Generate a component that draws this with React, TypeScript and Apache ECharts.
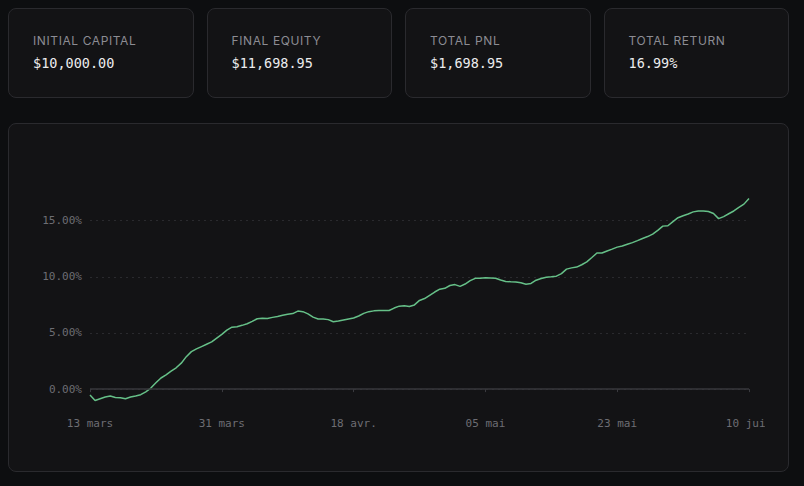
import React, { useEffect, useRef } from "react";
import * as echarts from "echarts";

const STAT_LABELS = ["INITIAL CAPITAL", "FINAL EQUITY", "TOTAL PNL", "TOTAL RETURN"];
const STAT_VALUES = ["$10,000.00", "$11,698.95", "$1,698.95", "16.99%"];

const TICK_LABELS = ["13 mars", "31 mars", "18 avr.", "05 mai", "23 mai", "10 juin"];
const Y_TICKS = [0, 5, 10, 15];

// equity return (%) sampled evenly from 13 mars to 10 juin
const RETURNS = [
  -0.53, -1.01, -0.86, -0.71, -0.61, -0.74, -0.77, -0.86, -0.71, -0.61,
  -0.5, -0.24, 0.09, 0.56, 0.99, 1.27, 1.6, 1.9, 2.31, 2.89,
  3.34, 3.58, 3.79, 4.0, 4.21, 4.55, 4.88, 5.25, 5.52, 5.56,
  5.68, 5.82, 6.03, 6.27, 6.32, 6.29, 6.39, 6.46, 6.58, 6.66,
  6.73, 6.95, 6.9, 6.7, 6.41, 6.25, 6.25, 6.19, 6.0, 6.06,
  6.15, 6.24, 6.33, 6.51, 6.75, 6.9, 6.97, 7.0, 7.0, 7.0,
  7.22, 7.39, 7.42, 7.36, 7.5, 7.9, 8.07, 8.36, 8.65, 8.9,
  8.98, 9.23, 9.31, 9.15, 9.36, 9.66, 9.87, 9.87, 9.91, 9.9,
  9.88, 9.72, 9.59, 9.56, 9.54, 9.47, 9.35, 9.41, 9.7, 9.85,
  9.97, 10.01, 10.06, 10.29, 10.69, 10.8, 10.87, 11.08, 11.33, 11.72,
  12.12, 12.13, 12.31, 12.47, 12.65, 12.75, 12.9, 13.05, 13.23, 13.42,
  13.59, 13.81, 14.14, 14.52, 14.55, 14.92, 15.27, 15.45, 15.6, 15.79,
  15.86, 15.87, 15.82, 15.64, 15.19, 15.37, 15.62, 15.87, 16.19, 16.48,
  16.99,
];

const MONO = '"DejaVu Sans Mono", "Liberation Mono", monospace';
const SANS = 'Inter, "Noto Sans", sans-serif';

function Chart() {
  const ref = useRef<HTMLDivElement>(null);
  useEffect(() => {
    if (!ref.current) return;
    const chart = echarts.init(ref.current, null, { renderer: "svg" });
    const last = RETURNS.length - 1;
    const step = last / (TICK_LABELS.length - 1);
    chart.setOption({
      animation: false,
      backgroundColor: "transparent",
      textStyle: { fontFamily: MONO },
      grid: { left: 58, right: 16, top: 51.4, bottom: 36, outerBoundsMode: "none", containLabel: false },
      xAxis: {
        type: "value",
        min: 0,
        max: last,
        interval: step,
        axisLine: { show: false },
        axisTick: { show: true, length: 3, lineStyle: { color: "#3a3a3f" } },
        splitLine: { show: false },
        axisLabel: {
          color: "#6d6d73",
          fontSize: 11,
          fontFamily: MONO,
          margin: 6,
          formatter: (v: number) => TICK_LABELS[Math.round(v / step)] ?? "",
        },
      },
      yAxis: {
        type: "value",
        min: -2.04,
        max: 16.99,
        axisLine: { show: false },
        axisTick: { show: false, customValues: Y_TICKS },
        axisLabel: {
          customValues: Y_TICKS,
          color: "#6d6d73",
          fontSize: 11,
          fontFamily: MONO,
          margin: 8,
          formatter: (v: number) => v.toFixed(2) + "%",
        },
        splitLine: {
          show: true,
          lineStyle: { color: "#2a2a2e", type: [2, 4], width: 1 },
        },
      },
      series: [
        {
          type: "line",
          data: RETURNS.map((v, i) => [i, v]),
          showSymbol: false,
          symbol: "none",
          lineStyle: { color: "#66c088", width: 1.5 },
          itemStyle: { color: "#66c088" },
          markLine: {
            silent: true,
            symbol: "none",
            label: { show: false },
            lineStyle: { color: "#38383c", type: "solid", width: 1.5 },
            data: [{ yAxis: 0 }],
          },
          z: 3,
        },
      ],
    });
    return () => chart.dispose();
  }, []);
  return <div ref={ref} style={{ position: "absolute", left: 23, top: 23, width: 733, height: 301 }} />;
}

export default function App() {
  useEffect(() => {
    document.body.style.background = "#0d0e10";
  }, []);
  return (
    <div style={{ width: 781, background: "#0d0e10" }}>
      <div style={{ display: "flex", gap: 13 }}>
        {STAT_LABELS.map((label, i) => (
          <div
            key={label}
            style={{
              position: "relative",
              width: 185.5,
              height: 90,
              boxSizing: "border-box",
              border: "1px solid #2a2a2e",
              borderRadius: 8,
              background: "#131315",
            }}
          >
            <div
              style={{
                position: "absolute",
                left: 24,
                top: 23.7,
                lineHeight: "16px",
                fontSize: 12,
                letterSpacing: 0.6,
                fontFamily: SANS,
                color: "#8c8c93",
                whiteSpace: "nowrap",
              }}
            >
              {label}
            </div>
            <div
              style={{
                position: "absolute",
                left: 24,
                top: 44.7,
                lineHeight: "18px",
                fontSize: 13.5,
                fontFamily: MONO,
                color: "#ececee",
                whiteSpace: "nowrap",
              }}
            >
              {STAT_VALUES[i]}
            </div>
          </div>
        ))}
      </div>
      <div
        style={{
          position: "relative",
          marginTop: 25,
          height: 349,
          boxSizing: "border-box",
          border: "1px solid #2a2a2e",
          borderRadius: 8,
          background: "#131315",
        }}
      >
        <Chart />
      </div>
    </div>
  );
}
